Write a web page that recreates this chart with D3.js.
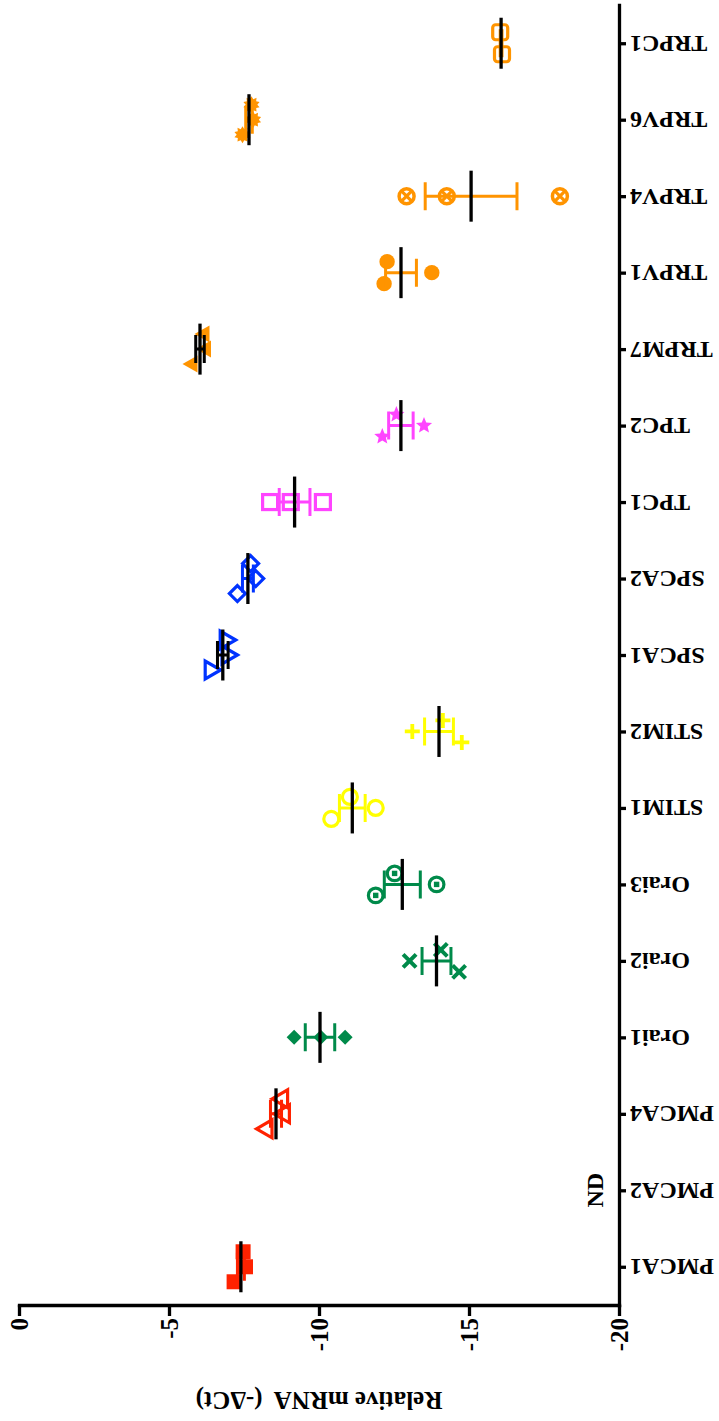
<!DOCTYPE html>
<html><head><meta charset="utf-8">
<script src="https://cdn.jsdelivr.net/npm/d3@7"></script>
<style>
body{margin:0;background:#fff}
svg{display:block}
text{font-family:"Liberation Serif","Times New Roman",serif;font-weight:bold;fill:#000}
</style>
</head><body>
<svg id="chart" width="719" height="1421"></svg>
<script>
// ---------------- data ----------------
const categories = ["PMCA1","PMCA2","PMCA4","Orai1","Orai2","Orai3","STIM1","STIM2",
                    "SPCA1","SPCA2","TPC1","TPC2","TRPM7","TRPV1","TRPV4","TRPV6","TRPC1"];
const PMCA1 = [-7.47, -7.55, -7.17];
const PMCA2 = [];                       // not detected
const PMCA4 = [-8.72, -8.78, -8.20];
const Orai1 = [-9.17, -10.06, -10.87];
const Orai2 = [-14.06, -13.02, -14.67];
const Orai3 = [-12.52, -13.92, -11.89];
const STIM1 = [-11.03, -11.89, -10.41];
const STIM2 = [-14.13, -13.11, -14.76];
const SPCA1 = [-6.94, -7.00, -6.44];
const SPCA2 = [-7.72, -7.89, -7.28];
const TPC1  = [-8.37, -9.06, -10.13];
const TPC2  = [-12.58, -13.50, -12.11];
const TRPM7 = [-6.15, -6.20, -5.75];
const TRPV1 = [-12.27, -13.76, -12.17];
const TRPV4 = [-12.92, -14.26, -18.03];
const TRPV6 = [-7.75, -7.80, -7.45];
const TRPC1 = [-16.04, -16.10];
const valueTicks = [0, -5, -10, -15, -20];
const notDetected = ["PMCA2"];
const ndLabel = "ND";
const axisTitle = "Relative mRNA  (-\u0394Ct)";

const replicates = {PMCA1,PMCA2,PMCA4,Orai1,Orai2,Orai3,STIM1,STIM2,SPCA1,SPCA2,TPC1,TPC2,TRPM7,TRPV1,TRPV4,TRPV6,TRPC1};

// ---------------- styles ----------------
const RED="#ff2200", GREEN="#008a4a", YELLOW="#ffff00", BLUE="#0033ff", MAGENTA="#ff44ff", ORANGE="#ff9400";
const markerStyle = {
  PMCA1:{shape:"squareFilled", color:RED},
  PMCA4:{shape:"triLeftOpen", color:RED},
  Orai1:{shape:"diamondFilled", color:GREEN},
  Orai2:{shape:"cross", color:GREEN},
  Orai3:{shape:"circleDot", color:GREEN},
  STIM1:{shape:"circleOpen", color:YELLOW},
  STIM2:{shape:"plus", color:YELLOW},
  SPCA1:{shape:"triRightOpen", color:BLUE, err:"#000"},
  SPCA2:{shape:"diamondOpen", color:BLUE},
  TPC1:{shape:"squareOpen", color:MAGENTA},
  TPC2:{shape:"star", color:MAGENTA},
  TRPM7:{shape:"triLeftFilled", color:ORANGE, err:"#000"},
  TRPV1:{shape:"circleFilled", color:ORANGE},
  TRPV4:{shape:"circleX", color:ORANGE},
  TRPV6:{shape:"burst", color:ORANGE},
  TRPC1:{shape:"squareRound", color:ORANGE}
};

// ---------------- scales ----------------
const svg = d3.select("#chart");
svg.append("rect").attr("width",719).attr("height",1421).attr("fill","#fff");

const x = d3.scaleLinear().domain([0,-20]).range([19,619]);
const y = d3.scalePoint().domain(categories).range([1305,5]).padding(0.5);

function starPath(points, rOut, rIn){
  let d = "";
  for(let i=0;i<points*2;i++){
    const r = i%2===0 ? rOut : rIn;
    const a = -Math.PI/2 + i*Math.PI/points;
    d += (i===0?"M":"L") + (r*Math.cos(a)).toFixed(2) + "," + (r*Math.sin(a)).toFixed(2);
  }
  return d + "Z";
}

function drawMarker(g, shape, c){
  switch(shape){
    case "squareFilled": g.append("rect").attr("x",-7.5).attr("y",-7.5).attr("width",15).attr("height",15).attr("fill",c); break;
    case "squareOpen": g.append("rect").attr("x",-7.5).attr("y",-7.5).attr("width",15).attr("height",15).attr("fill","none").attr("stroke",c).attr("stroke-width",3.2); break;
    case "squareRound": g.append("rect").attr("x",-7.5).attr("y",-7.5).attr("width",15).attr("height",15).attr("rx",3).attr("fill","none").attr("stroke",c).attr("stroke-width",3.2); break;
    case "triLeftOpen": g.append("path").attr("d","M-8.5,0L7,-9L7,9Z").attr("fill","none").attr("stroke",c).attr("stroke-width",3.2); break;
    case "triRightOpen": g.append("path").attr("d","M8.5,0L-7,-9L-7,9Z").attr("fill","none").attr("stroke",c).attr("stroke-width",3.2); break;
    case "triLeftFilled": g.append("path").attr("d","M-9,0L6,-8.5L6,8.5Z").attr("fill",c); break;
    case "diamondFilled": g.append("path").attr("d","M0,-7.5L7.5,0L0,7.5L-7.5,0Z").attr("fill",c); break;
    case "diamondOpen": g.append("path").attr("d","M0,-8L8,0L0,8L-8,0Z").attr("fill","none").attr("stroke",c).attr("stroke-width",3.2); break;
    case "cross": g.append("path").attr("d","M-6.5,-6.5L6.5,6.5M-6.5,6.5L6.5,-6.5").attr("stroke",c).attr("stroke-width",4); break;
    case "plus": g.append("path").attr("d","M-7.5,0H7.5M0,-7.5V7.5").attr("stroke",c).attr("stroke-width",3.8); break;
    case "circleOpen": g.append("circle").attr("r",7.5).attr("fill","none").attr("stroke",c).attr("stroke-width",3.2); break;
    case "circleFilled": g.append("circle").attr("r",7.7).attr("fill",c); break;
    case "circleDot":
      g.append("circle").attr("r",7.3).attr("fill","none").attr("stroke",c).attr("stroke-width",3.2);
      g.append("rect").attr("x",-2.7).attr("y",-2.7).attr("width",5.4).attr("height",5.4).attr("fill",c); break;
    case "circleX":
      g.append("circle").attr("r",7.5).attr("fill","none").attr("stroke",c).attr("stroke-width",3.5);
      g.append("path").attr("d","M-5,-5L5,5M-5,5L5,-5").attr("stroke",c).attr("stroke-width",3.2); break;
    case "star": g.append("path").attr("d",starPath(5,8.5,3.8)).attr("fill",c); break;
    case "burst": g.append("path").attr("d",starPath(10,8.5,5.8)).attr("fill",c); break;
  }
}

function offsets(vals){
  const n = vals.length;
  const px = vals.map(v=>x(v));
  let overlap = false;
  for(let i=0;i<n;i++) for(let j=i+1;j<n;j++) if(Math.abs(px[i]-px[j])<19.5) overlap = true;
  if(!overlap) return vals.map(()=>0);
  if(n===2) return [-11, 11];
  const spread = d3.max(px)-d3.min(px);
  const step = spread < 25 ? 15 : 11;
  return vals.map((v,i)=>(i-(n-1)/2)*step);
}

// ---------------- marks ----------------
const marks = svg.append("g");
categories.forEach(cat=>{
  const vals = replicates[cat];
  if(!vals.length) return;
  const st = markerStyle[cat];
  const cy = y(cat);
  const off = offsets(vals);
  vals.forEach((v,i)=>{
    const g = marks.append("g").attr("transform",`translate(${x(v)},${cy+off[i]})`);
    drawMarker(g, st.shape, st.color);
  });
});
categories.forEach(cat=>{
  const vals = replicates[cat];
  if(vals.length<2) return;
  const st = markerStyle[cat];
  const cy = y(cat);
  const m = d3.mean(vals);
  const sem = d3.deviation(vals)/Math.sqrt(vals.length);
  const ec = st.err || st.color;
  const x1 = x(m-sem), x2 = x(m+sem);
  marks.append("path")
    .attr("d",`M${x1},${cy}H${x2}M${x1},${cy-14}V${cy+14}M${x2},${cy-14}V${cy+14}`)
    .attr("fill","none").attr("stroke",ec).attr("stroke-width",3);
  marks.append("line").attr("x1",x(m)).attr("x2",x(m)).attr("y1",cy-25.5).attr("y2",cy+25.5)
    .attr("stroke","#000").attr("stroke-width",3.3);
});

// ---------------- axes ----------------
const xAxis = svg.append("g").attr("transform","translate(0,1305)")
  .call(d3.axisBottom(x).tickValues(valueTicks).tickSize(11).tickSizeOuter(0).tickFormat(d=>String(d)));
const yAxis = svg.append("g").attr("transform","translate(619,0)")
  .call(d3.axisRight(y).tickSize(7).tickSizeOuter(0));

[xAxis,yAxis].forEach(a=>{
  a.select(".domain").attr("stroke","#000").attr("stroke-width",3.3).attr("stroke-linecap","square");
  a.selectAll(".tick line").attr("stroke","#000").attr("stroke-width",3.3);
});

xAxis.selectAll(".tick text")
  .attr("y",null).attr("dy","0.35em")
  .attr("transform","translate(0,13) rotate(-90)")
  .attr("text-anchor","end")
  .style("font-size","25px").attr("fill","#000");

yAxis.selectAll(".tick text")
  .attr("x",null).attr("dy",null)
  .attr("transform","translate(11,-8) rotate(180)")
  .attr("text-anchor","end")
  .style("font-size","24px").attr("fill","#000");

// ND label
notDetected.forEach(cat=>{
  svg.append("text").attr("transform",`translate(603,${y(cat)}) rotate(-90)`)
    .attr("text-anchor","middle").style("font-size","24px").text(ndLabel);
});

// axis title
svg.append("text").attr("transform","translate(319,1392) rotate(180)")
  .attr("text-anchor","middle").style("font-size","25px").style("white-space","pre")
  .text(axisTitle);
</script>
</body></html>
